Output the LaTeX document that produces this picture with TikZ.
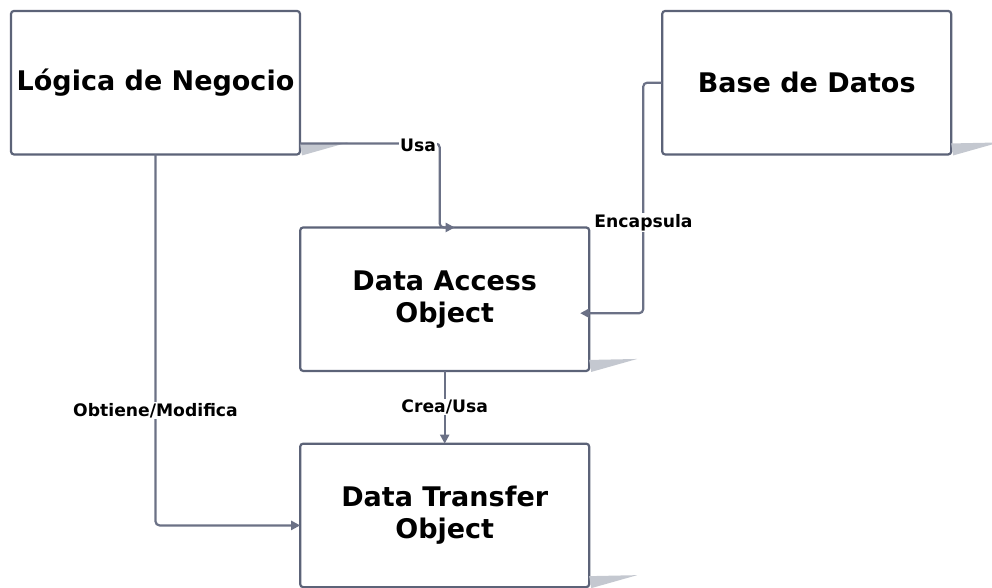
\documentclass[tikz,border=0pt]{standalone}
\usepackage{fontspec}
\setmainfont{DejaVu Sans}
\usetikzlibrary{arrows.meta,calc}
\definecolor{boxborder}{HTML}{5C6378}
\definecolor{connc}{HTML}{6B7186}
\definecolor{shadowc}{HTML}{C4C8D0}
\tikzset{
  boxnode/.style={draw=boxborder, line width=2.2pt, fill=white, rounded corners=3pt,
    minimum width=289pt, minimum height=143.5pt, inner sep=0pt, outer sep=0pt,
    align=center, font=\fontsize{27}{32}\selectfont\bfseries},
  conn/.style={draw=connc, line width=2.2pt, rounded corners=4pt,
    -{Triangle[length=9pt,width=9pt]}},
  lbl/.style={fill=white, inner sep=1pt, anchor=base, font=\fontsize{17.2}{20}\selectfont\bfseries}
}
\begin{document}
\begin{tikzpicture}[x=1pt,y=-1pt]
\useasboundingbox (0,0) rectangle (992,588);
% boxes
\node[boxnode] (lg)  at (155.5,82.7)  {Lógica de Negocio};
\node[boxnode] (bd)  at (806.7,82.7)  {Base de Datos};
\node[boxnode] (dao) at (444.7,299.2) {Data Access\\Object};
\node[boxnode] (dto) at (444.7,515.4) {Data Transfer\\Object};
% shadows
\foreach \n in {lg,bd,dao,dto}{
  \fill[shadowc] ($(\n.south east)+(0,-11)$) -- ($(\n.south east)+(48,-12)$) -- ($(\n.south east)+(2,1)$) -- cycle;
}
% connectors
\draw[conn] ($(lg.south east)+(0,-11)$) -| ($(dao.north)+(-5,0)$) -- ($(dao.north)+(10,0)$);
\draw[conn] (bd.west) -| ($(dao.east)+(54,14)$) -- ($(dao.east)+(-9,14)$);
\draw[conn] (dao.south) -- (dto.north);
\draw[conn] (lg.south) |- ($(dto.west)+(0,10)$);
% labels
\node[lbl] (l1) at (418,151.5) {Usa};
\node[lbl] (l2) at (643.5,227) {Encapsula};
\node[lbl] (l3) at (444.7,412.7) {Crea/Usa};
\node[lbl] (l4) at (155.5,416.5) {Obtiene/Modifica};
\end{tikzpicture}
\end{document}
